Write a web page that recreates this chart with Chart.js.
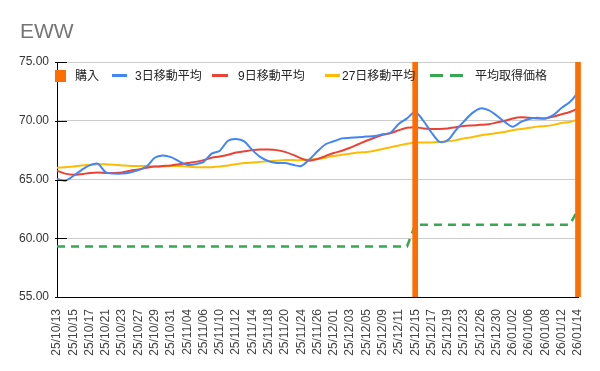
<!DOCTYPE html>
<html lang="ja">
<head>
    <meta charset="UTF-8">
    <title>EWW</title>
    <script src="https://cdn.jsdelivr.net/npm/chart.js"></script>
    <style>
        body { margin: 0; background: #fff; font-family: "Liberation Sans", Arial, "Noto Sans CJK JP", sans-serif; }
        #wrap { position: relative; width: 600px; height: 371px; }
        #title { position: absolute; left: 20px; top: 20px; font-size: 21px; line-height: 21px; color: #757575; }
        .lg { position: absolute; top: 70px; font-size: 12px; line-height: 12px; color: #222; white-space: nowrap; }
        .mk { position: absolute; }
    </style>
</head>
<body>
<div id="wrap">
    <canvas id="chart" width="600" height="371"></canvas>
    <div id="title">EWW</div>
    <!-- 凡例 -->
    <div class="mk" style="left:55px;top:70px;width:11px;height:12px;background:#FF6D01"></div>
    <div class="lg" style="left:75px">購入</div>
    <div class="mk" style="left:112px;top:74px;width:15px;height:3px;background:#4285F4"></div>
    <div class="lg" style="left:135px">3日移動平均</div>
    <div class="mk" style="left:212px;top:74px;width:16px;height:3px;background:#EA4335"></div>
    <div class="lg" style="left:238px">9日移動平均</div>
    <div class="mk" style="left:325px;top:74px;width:15px;height:3px;background:#FBBC04"></div>
    <div class="lg" style="left:342px">27日移動平均</div>
    <div class="mk" style="left:430px;top:74px;width:13px;height:3px;background:#34A853"></div>
    <div class="mk" style="left:450px;top:74px;width:13px;height:3px;background:#34A853"></div>
    <div class="lg" style="left:475px">平均取得価格</div>
</div>

<script>
    // 日付
    const dates = [
        '25/10/13','25/10/14','25/10/15','25/10/16','25/10/17','25/10/20','25/10/21','25/10/22','25/10/23','25/10/24',
        '25/10/27','25/10/28','25/10/29','25/10/30','25/10/31',
        '25/11/03','25/11/04','25/11/05','25/11/06','25/11/07','25/11/10','25/11/11','25/11/12','25/11/13','25/11/14',
        '25/11/17','25/11/18','25/11/19','25/11/20','25/11/21','25/11/24','25/11/25','25/11/26','25/11/28',
        '25/12/01','25/12/02','25/12/03','25/12/04','25/12/05','25/12/08','25/12/09','25/12/10','25/12/11','25/12/12',
        '25/12/15','25/12/16','25/12/17','25/12/18','25/12/19','25/12/22','25/12/23','25/12/24','25/12/26',
        '25/12/29','25/12/30','25/12/31',
        '26/01/02','26/01/05','26/01/06','26/01/07','26/01/08','26/01/09','26/01/12','26/01/13','26/01/14'
    ];

    // 購入日
    const purchaseDates = ['25/12/15', '26/01/14'];

    const ma3 = [
        65.05, 64.9, 65.3, 65.8, 66.2, 66.35, 65.6, 65.5, 65.5, 65.6,
        65.8, 66.1, 66.85, 67.05, 66.9, 66.55, 66.25, 66.3, 66.5, 67.2,
        67.45, 68.3, 68.45, 68.25, 67.5, 66.9, 66.55, 66.4, 66.4, 66.25,
        66.15, 66.7, 67.4, 68.0, 68.25, 68.5, 68.55, 68.6, 68.65, 68.7,
        68.85, 69.0, 69.75, 70.2, 70.75, 70.0, 69.0, 68.2, 68.35, 69.2,
        69.95, 70.65, 71.05, 70.9, 70.45, 69.9, 69.5, 69.9, 70.15, 70.25,
        70.2, 70.5, 71.1, 71.6, 72.4
    ];

    const ma9 = [
        65.75, 65.5, 65.4, 65.45, 65.55, 65.6, 65.55, 65.55, 65.6, 65.75,
        65.85, 66.0, 66.1, 66.15, 66.2, 66.3, 66.4, 66.5, 66.65, 66.85,
        66.95, 67.1, 67.3, 67.4, 67.5, 67.55, 67.55, 67.5, 67.35, 67.1,
        66.8, 66.6, 66.75, 67.0, 67.25, 67.45, 67.7, 68.0, 68.3, 68.55,
        68.8, 68.95, 69.2, 69.4, 69.45, 69.35, 69.3, 69.3, 69.35, 69.45,
        69.55, 69.6, 69.65, 69.7, 69.85, 70.0, 70.2, 70.3, 70.25, 70.2,
        70.2, 70.35, 70.55, 70.75, 71.05
    ];

    const ma27 = [
        66.0, 66.05, 66.1, 66.2, 66.25, 66.3, 66.3, 66.25, 66.2, 66.15,
        66.15, 66.15, 66.1, 66.1, 66.15, 66.15, 66.1, 66.05, 66.05, 66.05,
        66.1, 66.2, 66.3, 66.4, 66.45, 66.5, 66.55, 66.6, 66.65, 66.65,
        66.65, 66.7, 66.75, 66.85, 67.0, 67.1, 67.2, 67.3, 67.35, 67.45,
        67.6, 67.75, 67.9, 68.05, 68.15, 68.15, 68.15, 68.2, 68.25, 68.35,
        68.5, 68.6, 68.75, 68.85, 68.95, 69.05, 69.2, 69.3, 69.4, 69.5,
        69.55, 69.65, 69.8, 69.9, 70.1
    ];

    const avgCost = [
        59.3, 59.3, 59.3, 59.3, 59.3, 59.3, 59.3, 59.3, 59.3, 59.3,
        59.3, 59.3, 59.3, 59.3, 59.3, 59.3, 59.3, 59.3, 59.3, 59.3,
        59.3, 59.3, 59.3, 59.3, 59.3, 59.3, 59.3, 59.3, 59.3, 59.3,
        59.3, 59.3, 59.3, 59.3, 59.3, 59.3, 59.3, 59.3, 59.3, 59.3,
        59.3, 59.3, 59.3, 59.3, 61.15, 61.15, 61.15, 61.15, 61.15, 61.15,
        61.15, 61.15, 61.15, 61.15, 61.15, 61.15, 61.15, 61.15, 61.15, 61.15,
        61.15, 61.15, 61.15, 61.15, 62.45
    ];

    // 軸
    const yMin = 55;
    const yMax = 75;
    const yStep = 5;

    // 購入バーは軸の上端まで
    const purchase = dates.map(d => purchaseDates.includes(d) ? yMax : null);

    const fontFamily = '"Liberation Sans", Arial, "Noto Sans CJK JP", sans-serif';

    // 軸の内側の短い黒線
    const axisTicks = {
        id: 'axisTicks',
        afterDraw(chart) {
            const ctx = chart.ctx;
            const y = chart.scales.y;
            const left = chart.chartArea.left;
            ctx.save();
            ctx.strokeStyle = '#000';
            ctx.lineWidth = 1;
            y.ticks.forEach(t => {
                const py = Math.round(y.getPixelForValue(t.value)) + 0.5;
                ctx.beginPath();
                ctx.moveTo(left - 2, py);
                ctx.lineTo(left + 10, py);
                ctx.stroke();
            });
            ctx.restore();
        }
    };

    new Chart(document.getElementById('chart'), {
        data: {
            labels: dates,
            datasets: [
                {
                    type: 'bar',
                    label: '購入',
                    data: purchase,
                    backgroundColor: '#FF6D01',
                    barThickness: 5,
                    clip: { left: 0, top: 0, right: 4, bottom: 0 },
                    order: 0
                },
                {
                    type: 'line',
                    label: '3日移動平均',
                    data: ma3,
                    borderColor: '#4285F4',
                    borderWidth: 2,
                    pointRadius: 0,
                    tension: 0.3,
                    order: 1
                },
                {
                    type: 'line',
                    label: '9日移動平均',
                    data: ma9,
                    borderColor: '#EA4335',
                    borderWidth: 2,
                    pointRadius: 0,
                    tension: 0.3,
                    order: 2
                },
                {
                    type: 'line',
                    label: '27日移動平均',
                    data: ma27,
                    borderColor: '#FBBC04',
                    borderWidth: 2,
                    pointRadius: 0,
                    tension: 0.3,
                    order: 3
                },
                {
                    type: 'line',
                    label: '平均取得価格',
                    data: avgCost,
                    borderColor: '#34A853',
                    borderWidth: 2.5,
                    borderDash: [8, 6],
                    pointRadius: 0,
                    tension: 0,
                    order: 4
                }
            ]
        },
        options: {
            responsive: false,
            animation: false,
            layout: { padding: { top: 62, right: 22, left: 0, bottom: 0 } },
            plugins: {
                legend: { display: false },
                tooltip: { enabled: false }
            },
            scales: {
                x: {
                    offset: false,
                    grid: { display: false },
                    border: { display: true, color: '#000', width: 1 },
                    ticks: {
                        autoSkip: false,
                        minRotation: 90,
                        maxRotation: 90,
                        padding: 4,
                        color: '#444',
                        font: { family: fontFamily, size: 12 },
                        callback: function (value, index) {
                            return index % 2 === 0 ? this.getLabelForValue(value) : '';
                        }
                    },
                    afterFit(scale) { scale.height = 74; }
                },
                y: {
                    min: yMin,
                    max: yMax,
                    grid: { color: '#cccccc', drawTicks: false },
                    border: { display: true, color: '#000', width: 1 },
                    ticks: {
                        stepSize: yStep,
                        padding: 8,
                        color: '#333',
                        font: { family: fontFamily, size: 12 },
                        callback: v => v.toFixed(2)
                    },
                    afterFit(scale) { scale.width = 57; }
                }
            }
        },
        plugins: [axisTicks]
    });
</script>
</body>
</html>
